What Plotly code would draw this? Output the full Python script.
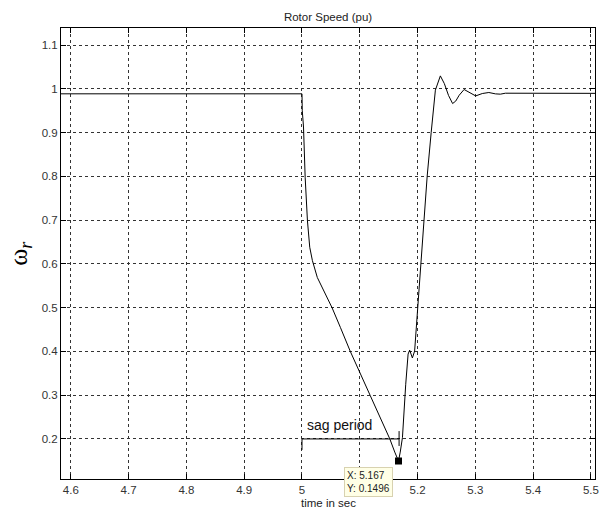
import plotly.graph_objects as go

# ---- data ----
time_s = [4.50, 5.000, 5.0005, 5.0026, 5.0055, 5.0094, 5.0134, 5.018, 5.0265, 5.0522,
          5.0664, 5.0836, 5.1178, 5.152, 5.1605, 5.167, 5.1700, 5.1738, 5.1795, 5.1836,
          5.1863, 5.191, 5.1949, 5.1978, 5.2007, 5.2052, 5.211, 5.2166, 5.2235, 5.2308,
          5.2394, 5.2463, 5.2535, 5.2606, 5.266, 5.272, 5.2805, 5.292, 5.3005, 5.312,
          5.3233, 5.3348, 5.3433, 5.352, 5.60]
rotor_speed = [0.9886, 0.9886, 0.95, 0.9128, 0.798, 0.699, 0.638, 0.6076, 0.569, 0.4993,
               0.455, 0.40, 0.30, 0.20, 0.170, 0.1496, 0.17, 0.203, 0.325, 0.394,
               0.403, 0.385, 0.401, 0.455, 0.50, 0.60, 0.70, 0.80, 0.90, 0.997,
               1.0296, 1.012, 0.985, 0.9664, 0.972, 0.9854, 0.9985, 0.989, 0.9838, 0.9893,
               0.9916, 0.9885, 0.9878, 0.99, 0.9895]

x_tick_vals = [4.6, 4.7, 4.8, 4.9, 5.0, 5.1, 5.2, 5.3, 5.4, 5.5]
x_tick_text = ["4.6", "4.7", "4.8", "4.9", "5", "5.1", "5.2", "5.3", "5.4", "5.5"]
y_tick_vals = [0.2, 0.3, 0.4, 0.5, 0.6, 0.7, 0.8, 0.9, 1.0, 1.1]
y_tick_text = ["0.2", "0.3", "0.4", "0.5", "0.6", "0.7", "0.8", "0.9", "1", "1.1"]

# sag period marker (annotation line)
sag_start, sag_end, sag_level = 5.0, 5.168, 0.2
sag_tick_start = [0.2, 0.175]
sag_tick_end = [0.218, 0.184]

# data tip
tip_x, tip_y = 5.167, 0.1496

x_range = [4.583, 5.507]
y_range = [0.1085, 1.139]

FONT = "Liberation Sans, Arial, sans-serif"

fig = go.Figure()

fig.add_trace(go.Scatter(x=time_s, y=rotor_speed, mode="lines",
                         line=dict(color="black", width=1), showlegend=False,
                         hoverinfo="skip"))

# sag period line with end ticks
fig.add_trace(go.Scatter(
    x=[sag_start, sag_end, None, sag_start, sag_start, None, sag_end, sag_end],
    y=[sag_level, sag_level, None, sag_tick_start[0], sag_tick_start[1], None,
       sag_tick_end[0], sag_tick_end[1]],
    mode="lines", line=dict(color="black", width=1), showlegend=False, hoverinfo="skip"))

# data tip marker
fig.add_trace(go.Scatter(x=[tip_x], y=[tip_y], mode="markers",
                         marker=dict(symbol="square", size=7, color="black"),
                         showlegend=False, hoverinfo="skip"))

fig.add_annotation(x=tip_x, y=tip_y, xref="x", yref="y", showarrow=False,
                   text=f"X: {tip_x}<br>Y: {tip_y}", align="left",
                   xanchor="right", yanchor="top", xshift=-6, yshift=-6,
                   font=dict(family=FONT, size=10, color="#222"),
                   bgcolor="#ffffe6", bordercolor="#d8d2b0", borderwidth=1, borderpad=2)

fig.add_annotation(x=sag_start, y=0.2318, xref="x", yref="y", showarrow=False,
                   text="sag period", xanchor="left", yanchor="middle", xshift=3,
                   font=dict(family=FONT, size=14, color="#111"))

# y-axis label
fig.add_annotation(x=-0.078, y=0.5, xref="paper", yref="paper", showarrow=False,
                   text="ω<sub><i>r</i></sub>", textangle=-90,
                   xanchor="center", yanchor="middle",
                   font=dict(family="Liberation Serif, Times New Roman, serif", size=26, color="black"))

# x-axis title
fig.add_annotation(x=0.5, y=-0.054, xref="paper", yref="paper", showarrow=False,
                   text="time in sec", xanchor="center", yanchor="middle",
                   font=dict(family=FONT, size=11.5, color="#222"))

axis_common = dict(showline=True, linecolor="black", linewidth=1, mirror="ticks",
                   ticks="inside", ticklen=5, tickcolor="black", tickwidth=1,
                   showgrid=True, gridcolor="#333", gridwidth=1, griddash="3px,3px",
                   zeroline=False, ticklabeloverflow="allow",
                   tickfont=dict(family=FONT, size=11.5, color="#333"))

fig.update_xaxes(range=x_range, tickvals=x_tick_vals, ticktext=x_tick_text, **axis_common)
fig.update_yaxes(range=y_range, tickvals=y_tick_vals, ticktext=y_tick_text, **axis_common)

fig.update_layout(
    width=602, height=510,
    margin=dict(l=61, r=3, t=28, b=31),
    paper_bgcolor="white", plot_bgcolor="white",
    title=dict(text="Rotor Speed (pu)", x=0.5, xref="paper", xanchor="center",
               y=1 - 17.3 / 510, yref="container", yanchor="middle",
               font=dict(family=FONT, size=11.5, color="#222")),
)

fig.write_html("out.html")
